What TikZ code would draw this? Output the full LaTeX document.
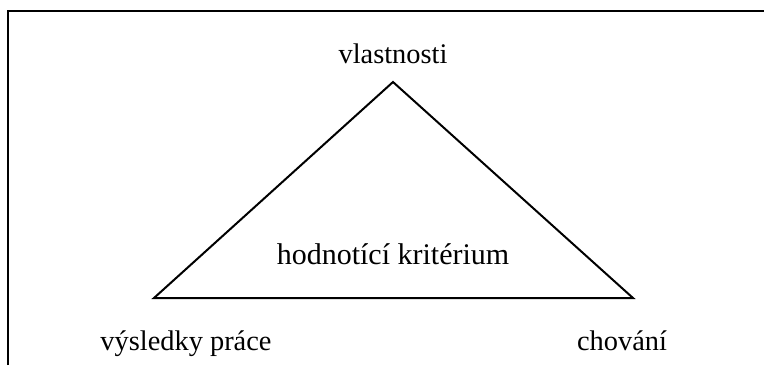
\documentclass[tikz,border=0pt]{standalone}
\usepackage{fontspec}
\setmainfont{Liberation Serif}
\begin{document}
\begin{tikzpicture}[x=0.75pt,y=-0.75pt,
  lbl/.style={anchor=base,inner sep=0pt,font=\fontsize{21.3}{25}\selectfont},
  edge/.style={line width=1.5pt,line join=miter}]
\useasboundingbox (0,0) rectangle (764,365);
\coordinate (fa) at (8,365);
\coordinate (fb) at (8,11);
\coordinate (fc) at (764,11);
\draw[line width=1.6pt] (fa) -- (fb) -- (fc);
\coordinate (top) at (393,82);
\coordinate (left) at (154,298);
\coordinate (right) at (633,298);
\draw[edge] (top) -- (left) -- (right) -- cycle;
\node[lbl] (v) at (393,63) {vlastnosti};
\node[lbl,font=\fontsize{22.5}{26}\selectfont] (h) at (393,264) {hodnotící kritérium};
\node[lbl] (p) at (186,350) {výsledky práce};
\node[lbl] (c) at (622,350) {chování};
\end{tikzpicture}
\end{document}
